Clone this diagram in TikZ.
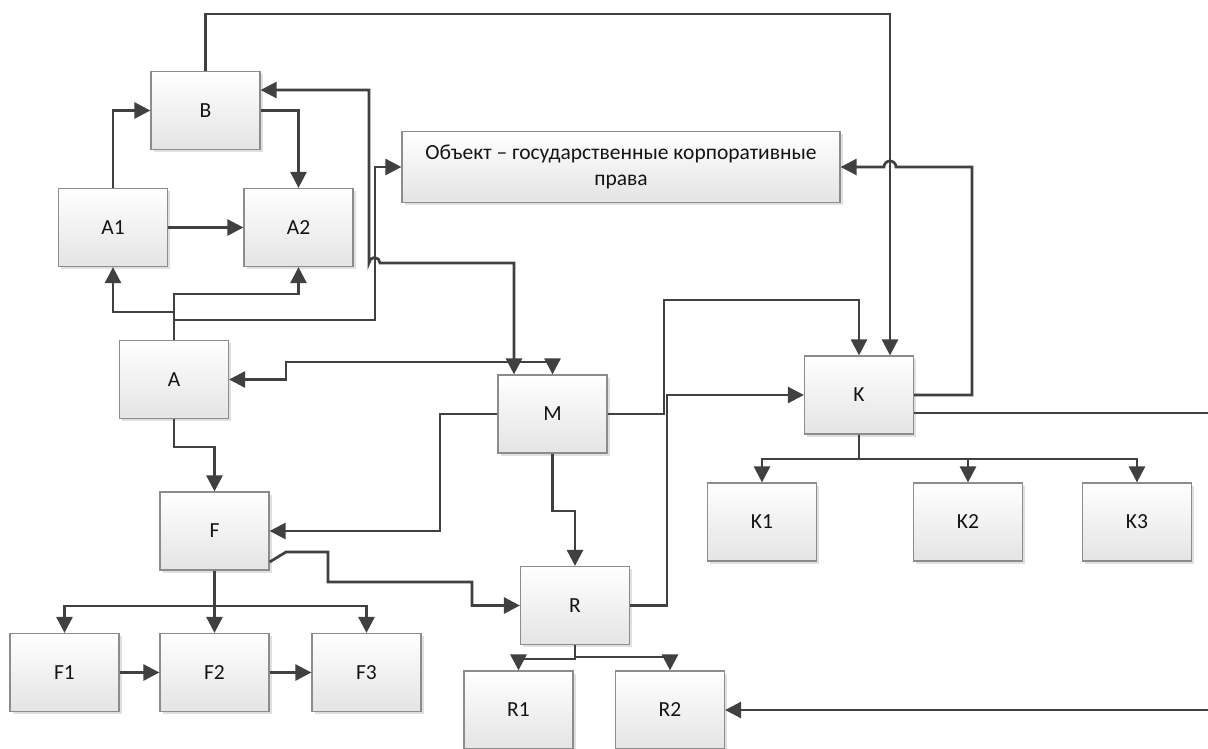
\documentclass[tikz,border=0pt]{standalone}
\usepackage{fontspec}
\setmainfont{Carlito}
\usetikzlibrary{arrows.meta,shadows}
\definecolor{linec}{HTML}{404040}
\definecolor{boxc}{HTML}{8C8C8C}
\definecolor{boxbot}{HTML}{E4E4E4}
\begin{document}
\begin{tikzpicture}[x=1pt,y=1pt,
  blk/.style={draw=boxc, line width=1.2pt, top color=white, bottom color=boxbot,
    minimum width=109pt, minimum height=78pt, inner sep=0pt,
    font=\fontsize{21.5}{26}\selectfont, text=black!92,
    drop shadow={shadow xshift=2.5pt, shadow yshift=-2.5pt, fill=black, opacity=0.12}},
  conn/.style={draw=linec, line width=2.7pt},
  tip/.style={-{Triangle[length=16pt,width=16pt]}},
  both/.style={{Triangle[length=16pt,width=16pt]}-{Triangle[length=16pt,width=16pt]}}
]
\useasboundingbox (0,0) rectangle (1208,-749);
\fill[white] (0,0) rectangle (1208,-749);

\node[blk] (B) at (205.5,-110.5) {B};
\node[blk] (A1) at (113,-227.5) {A1};
\node[blk] (A2) at (298.5,-227.5) {A2};
\node[blk, minimum width=438pt, minimum height=71pt, align=center] (Obj) at (621,-167) {Объект – государственные корпоративные\\права};
\node[blk] (A) at (174,-379.5) {A};
\node[blk] (M) at (552.5,-414) {M};
\node[blk] (K) at (859,-395) {K};
\node[blk] (K1) at (762,-522) {K1};
\node[blk] (K2) at (968,-522) {K2};
\node[blk] (K3) at (1137,-522) {K3};
\node[blk] (F) at (214.5,-531) {F};
\node[blk] (F1) at (64.5,-672.5) {F1};
\node[blk] (F2) at (214.5,-672.5) {F2};
\node[blk] (F3) at (366.5,-672.5) {F3};
\node[blk] (R) at (575,-605.5) {R};
\node[blk] (R1) at (518.5,-710) {R1};
\node[blk] (R2) at (670,-710) {R2};

\coordinate (edgeK) at (1208,-413);
\coordinate (edgeR) at (1208,-710);

% top part
\draw[conn,tip] (B.north) -- (205.5,-14) -| ([xshift=31pt]K.north);
\draw[conn,tip] (A1.north) |- (B.west);
\draw[conn,tip] (B.east) -| (A2.north);
\draw[conn,tip] (A1.east) -- (A2.west);
\draw[conn,tip] (A.north) -- (174,-312) -| (A1.south);
\draw[conn,tip] (A.north) -- (174,-294) -| (A2.south);
\draw[conn,tip] (A.north) -- (174,-320) -- (375,-320) |- (Obj.west);
\draw[conn,both] ([yshift=20.5pt]B.east) -- (369,-90) -- (369,-263)
   arc[start angle=180,end angle=0,radius=5.5] -- (514,-263) -- ([xshift=-38.5pt]M.north);
\draw[conn,both] (A.east) -- (286,-379.5) -- (286,-362) -| (M.north);
\draw[conn,tip] (K.east) -- (972,-395) -- (972,-167) -- (896,-167)
   arc[start angle=0,end angle=180,radius=6] -- (Obj.east);

% K
\draw[conn,tip] (M.east) -- (664,-414) -- (664,-300) -| (K.north);
\draw[conn,tip] (R.east) -- (667,-605.5) -- (667,-395) -- (K.west);
\draw[conn,tip] (K.south) -- (859,-459) -| (K1.north);
\draw[conn,tip] (K.south) -- (859,-459) -| (K2.north);
\draw[conn,tip] (K.south) -- (859,-459) -| (K3.north);
\draw[conn] ([yshift=-18pt]K.east) -- (edgeK);
\draw[conn,tip] (edgeR) -- (R2.east);

% lower left
\draw[conn,tip] (A.south) -- (174,-447) -| (F.north);
\draw[conn,tip] (M.west) -- (440,-414) |- (F.east);
\draw[conn,tip] ([yshift=-31pt]F.east) -- (286,-552) -- (328,-552) -- (328,-582) -- (472,-582) |- (R.west);
\draw[conn,tip] (M.south) -- (552.5,-511) -| (R.north);
\draw[conn,tip] (F.south) -- (214.5,-606) -| (F1.north);
\draw[conn,tip] (F.south) -- (F2.north);
\draw[conn,tip] (F.south) -- (214.5,-606) -| (F3.north);
\draw[conn,tip] (F1.east) -- (F2.west);
\draw[conn,tip] (F2.east) -- (F3.west);
\draw[conn,tip] (R.south) -- (575,-659) -| (R1.north);
\draw[conn,tip] (R.south) -- (575,-657) -| (R2.north);
\end{tikzpicture}
\end{document}
